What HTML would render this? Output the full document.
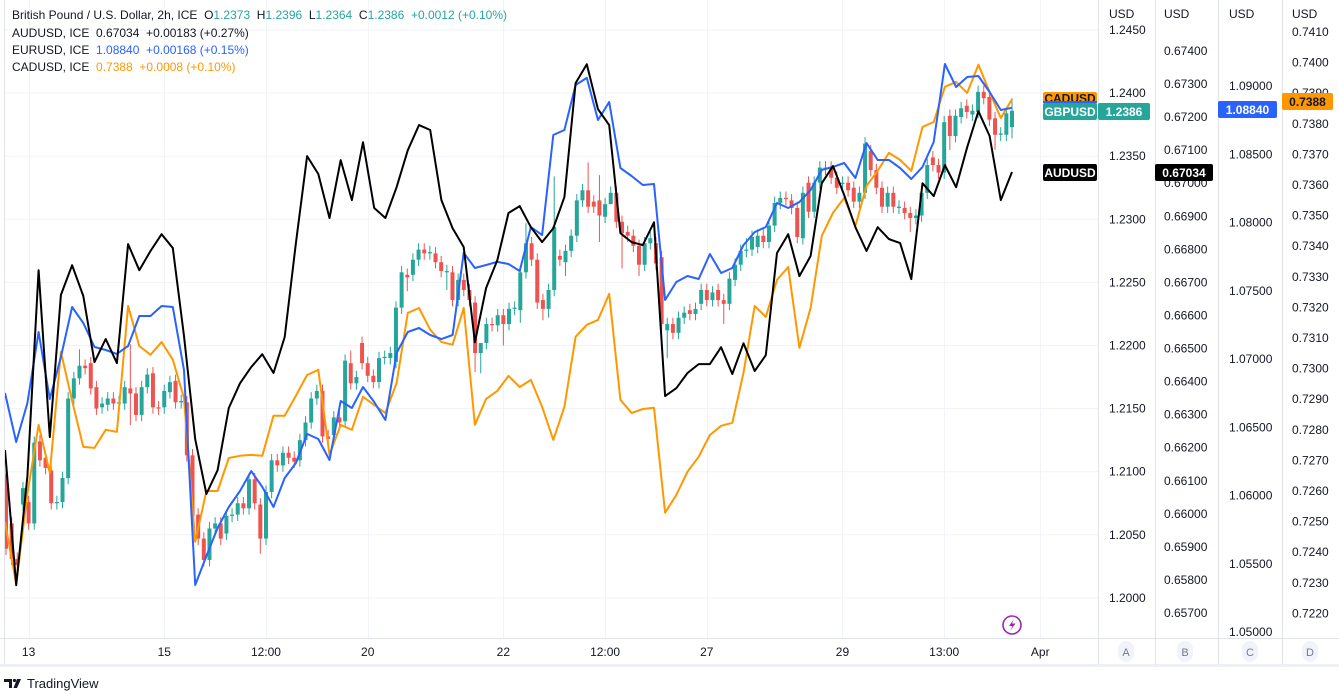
<!DOCTYPE html>
<html><head><meta charset="utf-8">
<style>
html,body{margin:0;padding:0;background:#fff;}
svg{display:block;font-family:"Liberation Sans",sans-serif;}
</style></head>
<body>
<svg id="chart" width="1339" height="694" viewBox="0 0 1339 694" xmlns="http://www.w3.org/2000/svg">
  <rect x="0" y="0" width="1339" height="694" fill="#ffffff"/>
  <g id="grid"></g>
  <g id="candles"></g>
  <g id="lines"></g>
  <g id="frame">
    <line x1="4.5" y1="0" x2="4.5" y2="666" stroke="#e0e3eb"/>
    <line x1="0" y1="638.5" x2="1339" y2="638.5" stroke="#e0e3eb"/>
    <rect x="0" y="664" width="1339" height="3" fill="#eef0f5"/>
    <line x1="1098.5" y1="0" x2="1098.5" y2="665" stroke="#e0e3eb"/>
    <line x1="1155.5" y1="0" x2="1155.5" y2="665" stroke="#e0e3eb"/>
    <line x1="1218.5" y1="0" x2="1218.5" y2="665" stroke="#e0e3eb"/>
    <line x1="1282.5" y1="0" x2="1282.5" y2="665" stroke="#e0e3eb"/>
  </g>
  <g id="axes"></g>
  <g id="timeaxis"></g>
  <g id="tags"></g>
  <g font-size="12">
    <text x="12" y="19" fill="#131722" xml:space="preserve">British Pound / U.S. Dollar, 2h, ICE  O<tspan fill="#26a69a">1.2373</tspan>  H<tspan fill="#26a69a">1.2396</tspan>  L<tspan fill="#26a69a">1.2364</tspan>  C<tspan fill="#26a69a">1.2386</tspan>  <tspan fill="#26a69a">+0.0012 (+0.10%)</tspan></text>
    <text x="12" y="37" fill="#131722" xml:space="preserve">AUDUSD, ICE  0.67034  +0.00183 (+0.27%)</text>
    <text x="12" y="54" fill="#131722" xml:space="preserve">EURUSD, ICE  <tspan fill="#2962ff">1.08840  +0.00168 (+0.15%)</tspan></text>
    <text x="12" y="71" fill="#131722" xml:space="preserve">CADUSD, ICE  <tspan fill="#ff9800">0.7388  +0.0008 (+0.10%)</tspan></text>
  </g>
  <g>
    <circle cx="1012" cy="625" r="9" fill="none" stroke="#9c27b0" stroke-width="1.6"/>
    <path d="M1014 619 L1009 626 L1012.5 626 L1010 631 L1015.5 623.5 L1012 623.5 Z" fill="#9c27b0"/>
  </g>
  <g>
    <path d="M4 679 H12 V688 H9 V682 H4 Z" fill="#131722"/>
    <circle cx="14.5" cy="680.5" r="1.6" fill="#131722"/>
    <path d="M17 679 H21 L17 688 H13.5 Z" fill="#131722"/>
    <text x="27" y="688" font-size="13" fill="#131722">TradingView</text>
  </g>
</svg>
<script>
// ---- data ----
const opens=[1.2098,1.2059,1.2031,1.2074,1.2076,1.2059,1.2124,1.2111,1.2101,1.2075,1.2076,1.2095,1.2158,1.2174,1.2184,1.2186,1.2167,1.2151,1.2153,1.2158,1.2154,1.2154,1.2166,1.2162,1.2145,1.2167,1.2178,1.2151,1.2151,1.2163,1.2172,1.2155,1.2155,1.2113,1.2066,1.2047,1.2030,1.2055,1.2059,1.2051,1.2065,1.2066,1.2075,1.2071,1.2094,1.2074,1.2047,1.2084,1.2109,1.2105,1.2115,1.2111,1.2109,1.2125,1.2139,1.2158,1.2164,1.2128,1.2129,1.2143,1.2140,1.2186,1.2170,1.2202,1.2186,1.2176,1.2171,1.2190,1.2190,1.2187,1.2230,1.2256,1.2256,1.2268,1.2276,1.2273,1.2273,1.2266,1.2258,1.2258,1.2236,1.2252,1.2244,1.2234,1.2194,1.2202,1.2217,1.2216,1.2224,1.2217,1.2229,1.2228,1.2258,1.2281,1.2268,1.2236,1.2229,1.2244,1.2271,1.2266,1.2275,1.2287,1.2315,1.2323,1.2314,1.2315,1.2302,1.2312,1.2321,1.2298,1.2290,1.2287,1.2279,1.2264,1.2281,1.2281,1.2270,1.2212,1.2217,1.2210,1.2222,1.2228,1.2225,1.2233,1.2244,1.2236,1.2244,1.2236,1.2233,1.2252,1.2264,1.2275,1.2276,1.2278,1.2287,1.2282,1.2295,1.2313,1.2317,1.2315,1.2309,1.2285,1.2329,1.2306,1.2329,1.2340,1.2341,1.2333,1.2328,1.2329,1.2325,1.2314,1.2321,1.2354,1.2339,1.2325,1.2310,1.2321,1.2309,1.2309,1.2305,1.2301,1.2303,1.2321,1.2349,1.2343,1.2337,1.2382,1.2366,1.2381,1.2390,1.2383,1.2385,1.2401,1.2397,1.2380,1.2367,1.2367,1.2373];
const closes=[1.2039,1.2031,1.2026,1.2087,1.2059,1.2123,1.2109,1.2103,1.2075,1.2076,1.2095,1.2158,1.2174,1.2184,1.2182,1.2166,1.2150,1.2154,1.2158,1.2154,1.2155,1.2167,1.2162,1.2145,1.2167,1.2177,1.2151,1.2150,1.2164,1.2171,1.2155,1.2156,1.2113,1.2065,1.2047,1.2030,1.2055,1.2059,1.2047,1.2065,1.2066,1.2075,1.2071,1.2094,1.2075,1.2047,1.2084,1.2109,1.2105,1.2115,1.2111,1.2108,1.2125,1.2139,1.2158,1.2164,1.2128,1.2126,1.2143,1.2139,1.2188,1.2170,1.2175,1.2186,1.2176,1.2171,1.2190,1.2191,1.2194,1.2230,1.2258,1.2254,1.2268,1.2276,1.2273,1.2274,1.2266,1.2259,1.2259,1.2236,1.2252,1.2244,1.2236,1.2194,1.2202,1.2217,1.2216,1.2224,1.2217,1.2229,1.2230,1.2258,1.2281,1.2268,1.2234,1.2229,1.2244,1.2294,1.2268,1.2275,1.2287,1.2315,1.2323,1.2310,1.2310,1.2303,1.2312,1.2321,1.2298,1.2289,1.2287,1.2279,1.2264,1.2281,1.2285,1.2265,1.2217,1.2217,1.2210,1.2222,1.2226,1.2225,1.2229,1.2244,1.2236,1.2242,1.2236,1.2233,1.2253,1.2264,1.2275,1.2276,1.2286,1.2287,1.2282,1.2295,1.2313,1.2317,1.2316,1.2309,1.2286,1.2321,1.2306,1.2329,1.2341,1.2341,1.2333,1.2325,1.2329,1.2323,1.2314,1.2321,1.2360,1.2339,1.2325,1.2310,1.2321,1.2310,1.2310,1.2305,1.2301,1.2303,1.2321,1.2343,1.2343,1.2337,1.2377,1.2366,1.2382,1.2388,1.2385,1.2386,1.2401,1.2396,1.2379,1.2367,1.2368,1.2384,1.2386];
const highs=[1.2103,1.2064,1.2036,1.2092,1.2081,1.2128,1.2129,1.2116,1.2106,1.2081,1.2100,1.2163,1.2179,1.2197,1.2189,1.2191,1.2172,1.2159,1.2163,1.2163,1.2160,1.2172,1.2201,1.2167,1.2172,1.2182,1.2183,1.2156,1.2169,1.2176,1.2177,1.2161,1.2160,1.2118,1.2071,1.2052,1.2060,1.2064,1.2064,1.2070,1.2071,1.2080,1.2080,1.2099,1.2099,1.2079,1.2089,1.2114,1.2114,1.2120,1.2120,1.2116,1.2130,1.2144,1.2163,1.2169,1.2169,1.2133,1.2148,1.2148,1.2193,1.2196,1.2180,1.2207,1.2191,1.2181,1.2195,1.2196,1.2199,1.2235,1.2263,1.2261,1.2273,1.2281,1.2281,1.2279,1.2278,1.2271,1.2264,1.2263,1.2257,1.2257,1.2249,1.2239,1.2199,1.2222,1.2222,1.2229,1.2229,1.2234,1.2235,1.2263,1.2297,1.2286,1.2273,1.2241,1.2249,1.2334,1.2276,1.2280,1.2292,1.2320,1.2328,1.2345,1.2319,1.2335,1.2317,1.2326,1.2326,1.2303,1.2295,1.2292,1.2284,1.2286,1.2290,1.2286,1.2275,1.2222,1.2222,1.2227,1.2231,1.2233,1.2234,1.2249,1.2249,1.2247,1.2249,1.2241,1.2258,1.2269,1.2280,1.2285,1.2291,1.2292,1.2292,1.2300,1.2318,1.2322,1.2322,1.2320,1.2314,1.2326,1.2334,1.2334,1.2346,1.2346,1.2346,1.2338,1.2334,1.2334,1.2330,1.2326,1.2365,1.2359,1.2344,1.2330,1.2326,1.2326,1.2315,1.2314,1.2310,1.2308,1.2326,1.2348,1.2354,1.2348,1.2382,1.2387,1.2387,1.2393,1.2395,1.2391,1.2406,1.2406,1.2402,1.2385,1.2373,1.2389,1.2396];
const lows=[1.2034,1.2026,1.2021,1.2069,1.2054,1.2054,1.2104,1.2098,1.2070,1.2070,1.2071,1.2090,1.2153,1.2169,1.2177,1.2161,1.2145,1.2146,1.2148,1.2149,1.2149,1.2149,1.2137,1.2140,1.2140,1.2162,1.2146,1.2145,1.2146,1.2158,1.2150,1.2150,1.2108,1.2060,1.2042,1.2025,1.2025,1.2050,1.2042,1.2046,1.2060,1.2061,1.2066,1.2066,1.2070,1.2035,1.2042,1.2079,1.2100,1.2100,1.2106,1.2103,1.2104,1.2120,1.2134,1.2153,1.2123,1.2121,1.2124,1.2134,1.2135,1.2165,1.2165,1.2181,1.2171,1.2166,1.2166,1.2185,1.2185,1.2182,1.2225,1.2243,1.2251,1.2263,1.2268,1.2268,1.2261,1.2254,1.2244,1.2231,1.2231,1.2239,1.2231,1.2179,1.2178,1.2197,1.2211,1.2211,1.2200,1.2212,1.2224,1.2218,1.2253,1.2263,1.2229,1.2220,1.2222,1.2239,1.2263,1.2255,1.2270,1.2282,1.2310,1.2305,1.2305,1.2282,1.2297,1.2316,1.2293,1.2261,1.2282,1.2274,1.2255,1.2259,1.2276,1.2260,1.2210,1.2190,1.2205,1.2205,1.2217,1.2220,1.2220,1.2228,1.2231,1.2231,1.2231,1.2217,1.2228,1.2247,1.2259,1.2270,1.2271,1.2273,1.2277,1.2277,1.2290,1.2308,1.2311,1.2304,1.2281,1.2280,1.2301,1.2301,1.2324,1.2335,1.2328,1.2320,1.2323,1.2318,1.2309,1.2309,1.2316,1.2334,1.2320,1.2305,1.2305,1.2305,1.2304,1.2300,1.2290,1.2296,1.2298,1.2316,1.2338,1.2332,1.2332,1.2355,1.2361,1.2376,1.2380,1.2378,1.2380,1.2391,1.2374,1.2355,1.2362,1.2362,1.2364];
const audusd=[0.66193,0.65784,0.66114,0.66737,0.66232,0.66662,0.66752,0.66659,0.66459,0.66529,0.66456,0.66816,0.66737,0.66795,0.66846,0.66804,0.66538,0.66226,0.66060,0.66132,0.66320,0.66395,0.66444,0.66483,0.66426,0.66535,0.66819,0.67082,0.67028,0.66895,0.67070,0.66949,
0.67124,0.66925,0.66895,0.66988,0.67100,0.67176,0.67161,0.66949,0.66864,0.66807,0.66519,0.66683,0.66767,0.66910,0.66931,0.66867,0.66822,0.66864,0.66958,0.67303,0.67360,0.67224,0.67176,0.66849,0.66822,0.66813,0.66882,0.66356,0.66380,
0.66426,0.66453,0.66453,0.66504,0.66423,0.66516,0.66432,0.66480,0.66789,0.66846,0.66719,0.66780,0.67000,0.67052,0.66964,0.66867,0.66795,0.66867,0.66831,0.66819,0.66710,0.67000,0.66961,0.67055,0.66988,0.67109,0.67218,0.67143,0.66949,0.67034];
const eurusd=[1.06751,1.06392,1.06678,1.07198,1.06707,1.07015,1.07381,1.07264,1.07088,1.07066,1.07037,1.07095,1.07315,1.07315,1.07388,1.07381,1.06919,1.05344,1.05557,1.05762,1.05916,1.06033,1.06179,1.06062,1.05916,1.06128,1.06238,1.06451,1.06414,1.06260,1.06692,1.06641,
1.06795,1.06685,1.06553,1.07044,1.07198,1.07227,1.07176,1.07146,1.07176,1.07777,1.07667,1.07689,1.07711,1.07696,1.07645,1.07967,1.07908,1.08641,1.08678,1.09007,1.09059,1.08751,1.08883,1.08399,1.08341,1.08275,1.08282,1.07432,1.07564,
1.07608,1.07586,1.07769,1.07630,1.07667,1.07835,1.07930,1.07967,1.08143,1.08106,1.08150,1.08238,1.08385,1.08407,1.08436,1.08326,1.08582,1.08458,1.08458,1.08399,1.08319,1.08407,1.08590,1.09161,1.08993,1.09066,1.09073,1.08956,1.08824,1.08840];
const cadusd=[0.72499,0.72296,0.72591,0.72816,0.72659,0.73055,0.72895,0.72744,0.72741,0.72800,0.72793,0.73205,0.73074,0.73045,0.73087,0.73029,0.72904,0.72434,0.72600,0.72600,0.72708,0.72715,0.72718,0.72715,0.72846,0.72846,0.72911,0.72979,0.72996,0.72718,0.72816,0.72800,
0.72908,0.72881,0.72855,0.72953,0.73182,0.73198,0.73127,0.73087,0.73078,0.73198,0.72816,0.72901,0.72927,0.72976,0.72940,0.72963,0.72875,0.72767,0.72875,0.73104,0.73143,0.73159,0.73244,0.72898,0.72855,0.72868,0.72872,0.72529,0.72587,
0.72663,0.72712,0.72783,0.72813,0.72823,0.72986,0.73205,0.73169,0.73290,0.73332,0.73068,0.73198,0.73434,0.73509,0.73558,0.73466,0.73597,0.73646,0.73705,0.73682,0.73646,0.73790,0.73806,0.73921,0.73937,0.73901,0.73993,0.73904,0.73819,0.73880];
const ticksA=[1.2450,1.2400,1.2350,1.2300,1.2250,1.2200,1.2150,1.2100,1.2050,1.2000];
const ticksB=[0.674,0.673,0.672,0.671,0.670,0.669,0.668,0.667,0.666,0.665,0.664,0.663,0.662,0.661,0.660,0.659,0.658,0.657];
const ticksC=[1.090,1.085,1.080,1.075,1.070,1.065,1.060,1.055,1.050];
const ticksD=[0.741,0.740,0.739,0.738,0.737,0.736,0.735,0.734,0.733,0.732,0.731,0.730,0.729,0.728,0.727,0.726,0.725,0.724,0.723,0.722];
const timeLabels=["13","15","12:00","20","22","12:00","27","29","13:00","Apr"];
const timeBars=[4,28,46,64,88,106,124,148,166,183];

// ---- scales ----
const NS="http://www.w3.org/2000/svg";
const yA=v=>30+(1.2450-v)*12620;
const yB=v=>51+(0.674-v)*33060;
const yC=v=>86+(1.09-v)*13650;
const yD=v=>32+(0.741-v)*30600;
const barStep=1006/178;
const xBar=i=>6+i*barStep;
const xLine=(i,n)=>5+i*(1007/(n-1));
function mk(tag,attrs,parent){const e=document.createElementNS(NS,tag);for(const k in attrs)e.setAttribute(k,attrs[k]);parent.appendChild(e);return e;}

// grid
const grid=document.getElementById('grid');
ticksA.forEach(v=>{const l=mk('line',{x1:5,x2:1098,y1:yA(v),y2:yA(v),stroke:'#f0f3fa'},grid);

});
timeBars.forEach(b=>{const x=Math.round(xBar(b))+0.5;const l=mk('line',{x1:x,x2:x,y1:0,y2:638,stroke:'#f0f3fa'},grid);

});

// candles
const cg=document.getElementById('candles');
for(let i=0;i<opens.length;i++){
  const up=closes[i]>=opens[i];const col=up?'#26a69a':'#ef5350';
  const x=xBar(i);
  const w=mk('line',{x1:x,x2:x,y1:yA(highs[i]),y2:yA(lows[i]),stroke:col,'stroke-width':1},cg);
  
  
  const t=yA(Math.max(opens[i],closes[i])),b=yA(Math.min(opens[i],closes[i]));
  const r=mk('rect',{x:x-2,y:t,width:4,height:Math.max(1,b-t),fill:col},cg);
  
  
}

// lines
const lg=document.getElementById('lines');
function drawLine(arr,ys,col,name){
  const pts=arr.map((v,i)=>xLine(i,arr.length).toFixed(1)+','+ys(v).toFixed(1)).join(' ');
  const p=mk('polyline',{points:pts,fill:'none',stroke:col,'stroke-width':2,'stroke-linejoin':'round'},lg);
  
  
}
drawLine(cadusd,yD,'#ff9800','cadusd-line');
drawLine(eurusd,yC,'#2962ff','eurusd-line');
drawLine(audusd,yB,'#000000','audusd-line');

// axes labels
const ag=document.getElementById('axes');
function axisLabels(ticks,ys,x,dec,name){
  const h=mk('text',{x:x,y:18,'font-size':12,fill:'#131722'},ag);h.textContent='USD';
  
  
  ticks.forEach(v=>{const t=mk('text',{x:x,y:ys(v)+4,'font-size':12,fill:'#131722'},ag);t.textContent=v.toFixed(dec);
  
  });
}
axisLabels(ticksA,yA,1109,4,'axis-a');
axisLabels(ticksB,yB,1164,5,'axis-b');
axisLabels(ticksC,yC,1229,5,'axis-c');
axisLabels(ticksD,yD,1292,4,'axis-d');

// time axis
const tg=document.getElementById('timeaxis');
timeLabels.forEach((s,i)=>{const t=mk('text',{x:xBar(timeBars[i]),y:656,'font-size':12,'text-anchor':'middle',fill:'#131722'},tg);t.textContent=s;

});
[['A',1126],['B',1185],['C',1250],['D',1310]].forEach(([s,x])=>{
  const c=mk('rect',{x:x-8,y:641,width:16,height:21,rx:8,fill:'#f0f3fa'},tg);
  
  
  const t=mk('text',{x:x,y:656,'font-size':11,'text-anchor':'middle',fill:'#787b86'},tg);t.textContent=s;
  
  
});

// price tags
const pg=document.getElementById('tags');
function tag(x,y,w,h,bg,txt,name,fg){
  const r=mk('rect',{x:x,y:y,width:w,height:h,rx:2,fill:bg},pg);
  
  
  const t=mk('text',{x:x+w/2,y:y+h/2+4.5,'font-size':12,'font-weight':'bold','text-anchor':'middle',fill:fg||'#ffffff'},pg);t.textContent=txt;
  
  
}
tag(1043,92,54,12,'#ff9800','CADUSD','cadusd-name-tag','#131722');
mk('rect',{x:1043,y:101,width:54,height:2,fill:'#2962ff'},pg);
tag(1043,103,54,17,'#26a69a','GBPUSD','gbpusd-name-tag');
tag(1098,103,52,17,'#26a69a',closes[closes.length-1].toFixed(4),'gbpusd-price-tag');
tag(1043,164,54,17,'#000000','AUDUSD','audusd-name-tag');
tag(1155,164,58,17,'#000000',audusd[audusd.length-1].toFixed(5),'audusd-price-tag');
tag(1218,101,59,17,'#2962ff',eurusd[eurusd.length-1].toFixed(5),'eurusd-price-tag');
tag(1282,93,51,17,'#ff9800',cadusd[cadusd.length-1].toFixed(4),'cadusd-price-tag','#131722');
</script>
</body></html>
